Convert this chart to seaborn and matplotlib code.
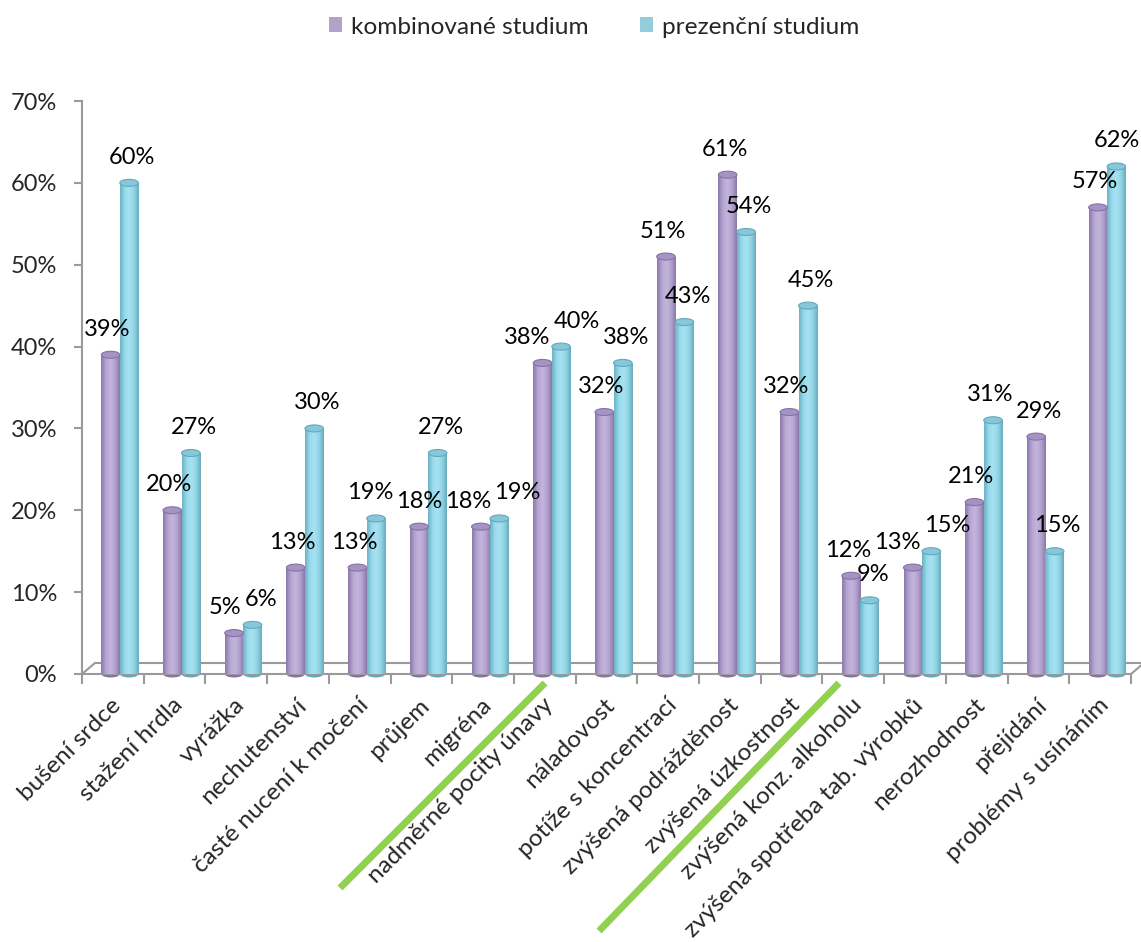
import numpy as np
import pandas as pd
import matplotlib
matplotlib.use("Agg")
import matplotlib.pyplot as plt
import seaborn as sns
from matplotlib.colors import LinearSegmentedColormap
from matplotlib.patches import Ellipse, Patch
from matplotlib.lines import Line2D
from matplotlib.transforms import ScaledTranslation

# Symptom categories and the share of respondents reporting each one
kategorie = [
    "bušení srdce", "stažení hrdla", "vyrážka", "nechutenství",
    "časté nucení k močení", "průjem", "migréna", "nadměrné pocity únavy",
    "náladovost", "potíže s koncentrací", "zvýšená podrážděnost",
    "zvýšená úzkostnost", "zvýšená konz. alkoholu",
    "zvýšená spotřeba tab. výrobků", "nerozhodnost", "přejídání",
    "problémy s usínáním",
]
serie = ["kombinované studium", "prezenční studium"]
kombinovane = [39, 20, 5, 13, 13, 18, 18, 38, 32, 51, 61, 32, 12, 13, 21, 29, 57]
prezencni = [60, 27, 6, 30, 19, 27, 19, 40, 38, 43, 54, 45, 9, 15, 31, 15, 62]
y_ticks = [0, 10, 20, 30, 40, 50, 60, 70]

df = pd.DataFrame({
    "kategorie": kategorie * 2,
    "studium": [serie[0]] * len(kategorie) + [serie[1]] * len(kategorie),
    "hodnota": kombinovane + prezencni,
})

# colours
purple_leg, cyan_leg = "#B3A2C7", "#93CDDD"
grad_purple = LinearSegmentedColormap.from_list(
    "p", ["#8B78AC", "#B5A4D2", "#C4B6DE", "#B3A2CF", "#8A77AA"])
grad_cyan = LinearSegmentedColormap.from_list(
    "c", ["#6CB1C4", "#98DBEC", "#A6E3F2", "#90D4E5", "#68ABBE"])
cap_colors = [("#A593C4", "#8672A7"), ("#86C8D9", "#64A8BB")]
axis_gray = "#9A9A9A"
green = "#92D050"

sns.set_theme(style="white")
plt.rcParams["font.family"] = ["Lato", "DejaVu Sans"]
FS_NUM = 17
FS_TXT = 17.6

W, H = 1141, 942
fig = plt.figure(figsize=(W / 100, H / 100), dpi=100)
ax = fig.add_axes([82 / W, 1 - 674 / H, (1131 - 82) / W, (674 - 101) / H])

sns.barplot(data=df, x="kategorie", y="hodnota", hue="studium",
            palette=[purple_leg, cyan_leg], width=0.6, saturation=1,
            legend=False, ax=ax, errorbar=None)

n = len(kategorie)
xlim = (-0.5, n - 0.5)
ylim = (0, 70)
px_x = (1131 - 82) / n          # pixels per category
px_y = (674 - 101) / 70.0       # pixels per percent
shift = 7 / px_x                # depth offset of the bar row
cap_h = 7 / px_y                # height of the elliptical caps

grads = [grad_purple, grad_cyan]
label_dx = [-3, 3]
label_dy = 15
gradient = np.linspace(0, 1, 64).reshape(1, -1)
labels = []

for si, cont in enumerate(ax.containers):
    for bar in cont.patches:
        bar.set_x(bar.get_x() + shift)
        x0, w, h = bar.get_x(), bar.get_width(), bar.get_height()
        bar.set_facecolor("none")
        bar.set_edgecolor("none")
        bar.set_zorder(3)
        # bottom rounded end
        ax.add_patch(Ellipse((x0 + w / 2, 0), w, cap_h, facecolor=cap_colors[si][1],
                             edgecolor="none", zorder=2.5, clip_on=False))
        im = ax.imshow(gradient, cmap=grads[si], extent=[x0, x0 + w, 0, h],
                       aspect="auto", zorder=3, interpolation="bicubic")
        im.set_clip_path(bar)
        # top cap
        ax.add_patch(Ellipse((x0 + w / 2, h), w, cap_h, facecolor=cap_colors[si][0],
                             edgecolor=cap_colors[si][1], linewidth=0.8, zorder=4))
        ann = ax.annotate(f"{h:.0f}%", (x0 + w / 2, h),
                          xytext=(label_dx[si], label_dy),
                          textcoords="offset pixels", ha="center", va="bottom",
                          fontsize=FS_NUM, color="black", zorder=5)
        labels.append((x0 + w / 2, ann))

ax.set_xlim(*xlim)
ax.set_ylim(*ylim)

# axes styling
for s in ["top", "right"]:
    ax.spines[s].set_visible(False)
for s in ["left", "bottom"]:
    ax.spines[s].set_color(axis_gray)
    ax.spines[s].set_linewidth(1.5)
ax.set_xlabel("")
ax.set_ylabel("")
ax.grid(False)

ax.set_yticks(y_ticks)
ax.set_yticklabels([f"{v}%" for v in y_ticks], fontsize=FS_NUM)
ax.tick_params(axis="y", direction="out", length=6, width=1.5, color=axis_gray,
               pad=12, left=True)

ax.set_xticks(range(n))
ax.set_xticklabels(kategorie, fontsize=FS_TXT, rotation=45, ha="right", va="center",
                   rotation_mode="anchor")
ax.tick_params(axis="x", which="major", length=0, pad=20)
ax.set_xticks(np.arange(n + 1) - 0.5, minor=True)
ax.tick_params(axis="x", which="minor", direction="out", length=7, width=1.5,
               color=axis_gray, bottom=True)
offset = ScaledTranslation(5 / 100, 0, fig.dpi_scale_trans)
for lab in ax.get_xticklabels():
    lab.set_transform(lab.get_transform() + offset)

# floor of the plot area
dx, dy = 13 / px_x, 11 / px_y
floor_kw = dict(color=axis_gray, linewidth=1.5, clip_on=False, zorder=1)
ax.add_line(Line2D([xlim[0], xlim[0] + dx], [0, dy], **floor_kw))
ax.add_line(Line2D([xlim[0] + dx, xlim[1] + dx], [dy, dy], **floor_kw))
ax.add_line(Line2D([xlim[1], xlim[1] + dx], [0, dy], **floor_kw))

# legend
handles = [Patch(facecolor=purple_leg, edgecolor="none"),
           Patch(facecolor=cyan_leg, edgecolor="none")]
fig.legend(handles, serie, loc="center", bbox_to_anchor=(594 / W, 1 - 27 / H),
           ncol=2, frameon=False, fontsize=FS_TXT, handlelength=0.55,
           handleheight=0.55, handletextpad=0.35, columnspacing=2.1)

# green separators between symptom groups
for (xa, ya), (xb, yb) in [((340, 888), (545, 683)), ((599, 931), (839, 683))]:
    fig.add_artist(Line2D([xa / W, xb / W], [1 - ya / H, 1 - yb / H],
                          transform=fig.transFigure, color=green, linewidth=5,
                          solid_capstyle="butt", zorder=10))

# push colliding value labels sideways so that none overlap
fig.canvas.draw()
renderer = fig.canvas.get_renderer()
labels.sort(key=lambda t: t[0])
anns = [a for _, a in labels]
for _ in range(40):
    moved = False
    boxes = [a.get_window_extent(renderer) for a in anns]
    for i in range(len(anns)):
        for j in range(i + 1, min(i + 4, len(anns))):
            bi, bj = boxes[i], boxes[j]
            if bi.x1 > bj.x0 - 2 and bi.x0 < bj.x1 and bi.y1 > bj.y0 and bi.y0 < bj.y1:
                ov = bi.x1 - bj.x0 + 3
                xi, yi = anns[i].xyann
                xj, yj = anns[j].xyann
                anns[i].xyann = (xi - ov / 2, yi)
                anns[j].xyann = (xj + ov / 2, yj)
                moved = True
                boxes = [a.get_window_extent(renderer) for a in anns]
    # keep labels inside the canvas
    for a in anns:
        bb = a.get_window_extent(renderer)
        if bb.x1 > W - 1:
            xa_, ya_ = a.xyann
            a.xyann = (xa_ - (bb.x1 - W + 1), ya_)
            moved = True
    if not moved:
        break

fig.savefig("out.png", dpi=100)
